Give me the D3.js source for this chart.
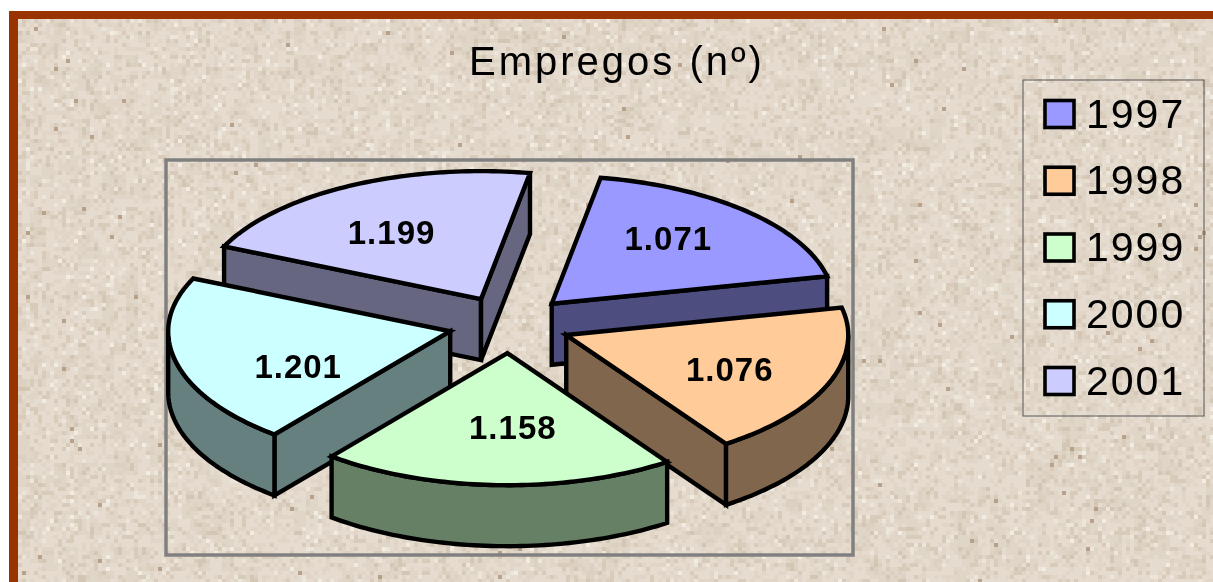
<!DOCTYPE html>
<html><head><meta charset="utf-8">
<script src="https://cdn.jsdelivr.net/npm/d3@7/dist/d3.min.js"></script>
<style>
html,body{margin:0;padding:0;background:#fff;overflow:hidden}
#wrap{position:relative;width:1213px;height:582px}
canvas,svg{position:absolute;left:0;top:0}
text{font-family:"Liberation Sans",Arial,sans-serif;fill:#000}
</style></head><body><div id="wrap"><canvas id="bg" width="1213" height="582"></canvas><svg id="c" width="1213" height="582"></svg></div>
<script>
const chartTitle = "Empregos (nº)";
const years = ["1997","1998","1999","2000","2001"];
const values = [1071,1076,1158,1201,1199];
const valueLabels = ["1.071","1.076","1.158","1.201","1.199"];
const topColors = ["#9999FF","#FFCC99","#CCFFCC","#CCFFFF","#CCCCFF"];
// label placement relative to the slice apex: [angle shift in degrees, radius fraction]
const labelPolar = [[-5,.66],[2.5,.635],[-4,.56],[-12.5,.6],[-3.5,.61]];

const W=1213,H=582;
// textured paper background
const ctx=document.getElementById("bg").getContext("2d");
const rnd=d3.randomLcg(0.4242);
ctx.fillStyle="#fff";ctx.fillRect(0,0,W,H);
const shade=d3.scaleThreshold().domain([.003,.14,.42,.94,.985])
  .range(["#b8a28c","#d8cbba","#e0d5c7","#e5dccf","#ece5d9","#f2ede3"]);
for(let y=19;y<H;y+=4)for(let x=18;x<W;x+=4){ctx.fillStyle=shade(rnd());ctx.fillRect(x,y,4,4);}
for(let y=19;y<H;y+=12)for(let x=18;x<W;x+=12){
  const v=rnd();
  if(v<.25){ctx.fillStyle="rgba(170,145,120,.07)";ctx.fillRect(x,y,12,12);}
}
ctx.fillStyle="#993300";ctx.fillRect(9,11,W-9,8);ctx.fillRect(9,11,9,H-11);

const svg=d3.select("#c");
svg.append("text").attr("x",469).attr("y",75).attr("font-size",40).attr("letter-spacing",3).text(chartTitle);
svg.append("rect").attr("x",166).attr("y",160).attr("width",687).attr("height",395)
  .attr("fill","none").attr("stroke","#808080").attr("stroke-width",3.5);

// pie geometry
const deg=Math.PI/180;
const pie=d3.pie().sort(null).startAngle(10*deg).endAngle(370*deg);
const arcs=pie(values);
const rx=282,depth=61,cx=509.5,cy=324.5,ex=61,ey=28.7;
const sx=d3.scaleLinear().domain([-1,1]).range([cx-rx,cx+rx]);
const sy=d3.scaleLinear().domain([-1,0,1]).range([cy-128,cy,cy+132]);
const line=d3.line();
const slices=arcs.map((d,i)=>{
  const a=d.startAngle/deg,b=d.endAngle/deg,m=(a+b)/2;
  return {i,a,b,m,ox:Math.sin(m*deg)*ex,oy:-Math.cos(m*deg)*ey};
});
const pt=(s,ang,f=1,dz=0)=>[sx(Math.sin(ang*deg)*f)+s.ox,sy(-Math.cos(ang*deg)*f)+s.oy+dz];
const sample=(s,a,b,dz=0)=>d3.range(0,61).map(k=>pt(s,a+(b-a)*k/60,1,dz));

const g=svg.append("g").attr("stroke","#000").attr("stroke-width",4.4).attr("stroke-linejoin","miter").attr("stroke-miterlimit",3);
const darken=c=>{const r=d3.rgb(c);return d3.rgb(r.r*.5,r.g*.5,r.b*.5).formatHex();};
function wall(s,ang,fill){
  const p=pt(s,ang),o=pt(s,0,0);
  g.append("path").attr("fill",fill).attr("d",line([o,p,[p[0],p[1]+depth],[o[0],o[1]+depth]])+"Z");
}
// painter's order: back slices first
[4,0,3,1,2].forEach(i=>{
  const s=slices[i],dark=darken(topColors[i]);
  const sinA=Math.sin(s.a*deg),sinB=Math.sin(s.b*deg);
  if(sinA<0) wall(s,s.a,dark);
  if(sinB>0) wall(s,s.b,dark);
  const f0=Math.max(s.a,90),f1=Math.min(s.b,270);
  if(f1>f0){
    const top=sample(s,f0,f1),bot=sample(s,f0,f1,depth).reverse();
    g.append("path").attr("fill",dark).attr("d",line(top.concat(bot))+"Z");
  }
  g.append("path").attr("fill",topColors[i]).attr("d",line([pt(s,0,0)].concat(sample(s,s.a,s.b)))+"Z");
});
// value labels
slices.forEach(s=>{
  const [shift,frac]=labelPolar[s.i];
  const p=pt(s,s.m+shift,frac);
  svg.append("text").attr("x",p[0]).attr("y",p[1]+12).attr("text-anchor","middle")
    .attr("font-size",33).attr("font-weight","bold").attr("letter-spacing",1).text(valueLabels[s.i]);
});
// legend
svg.append("rect").attr("x",1023).attr("y",80).attr("width",181).attr("height",336)
  .attr("fill","none").attr("stroke","#555").attr("stroke-width",1);
const ly=d3.scalePoint().domain(years).range([114,381]);
years.forEach((y,i)=>{
  svg.append("rect").attr("x",1045).attr("y",ly(y)-13.5).attr("width",29).attr("height",27)
    .attr("fill",topColors[i]).attr("stroke","#000").attr("stroke-width",3.6);
  svg.append("text").attr("x",1086).attr("y",ly(y)+13.5).attr("font-size",41).attr("letter-spacing",2).text(y);
});
</script></body></html>
